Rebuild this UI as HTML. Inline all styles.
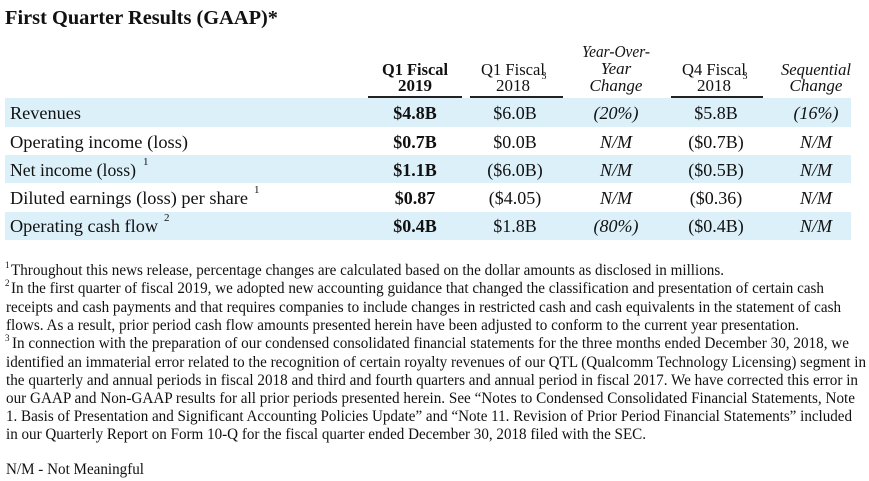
<!DOCTYPE html>
<html><head><meta charset="utf-8"><style>
html,body{margin:0;padding:0;background:#fff;width:869px;height:481px;overflow:hidden}
svg{display:block;font-family:"Liberation Serif",serif;fill:#111}
</style></head><body>
<svg width="869" height="481" viewBox="0 0 869 481">
<text x="5" y="24" font-size="20" font-weight="bold" textLength="273" lengthAdjust="spacingAndGlyphs">First Quarter Results (GAAP)*</text>

<g>
<rect x="5" y="98" width="846" height="29" fill="#dcf0fa"/>
<rect x="5" y="155" width="846" height="28" fill="#dcf0fa"/>
<rect x="5" y="212" width="846" height="28" fill="#dcf0fa"/>
</g>
<g fill="#222">
<rect x="368" y="96" width="94" height="2"/>
<rect x="470" y="96" width="93" height="2"/>
<rect x="671" y="96" width="92" height="2"/>
</g>

<g font-size="17" text-anchor="middle">
<text x="415" y="75" font-weight="bold" textLength="66" lengthAdjust="spacingAndGlyphs">Q1 Fiscal</text>
<text x="415" y="91" font-weight="bold">2019</text>
<text x="513" y="75" textLength="64" lengthAdjust="spacingAndGlyphs">Q1 Fiscal</text>
<text x="513" y="91">2018</text>
<text x="544" y="79" font-size="10">3</text>
<text x="616" y="57" font-style="italic" textLength="68" lengthAdjust="spacingAndGlyphs">Year-Over-</text>
<text x="616" y="74" font-style="italic">Year</text>
<text x="616" y="91" font-style="italic">Change</text>
<text x="714" y="75" textLength="64" lengthAdjust="spacingAndGlyphs">Q4 Fiscal</text>
<text x="714" y="91">2018</text>
<text x="745" y="79" font-size="10">3</text>
<text x="816" y="75" font-style="italic" textLength="70" lengthAdjust="spacingAndGlyphs">Sequential</text>
<text x="816" y="91" font-style="italic">Change</text>
</g>

<g font-size="18">
<text x="10" y="119" textLength="71" lengthAdjust="spacingAndGlyphs">Revenues</text>
<text x="10" y="148" textLength="178" lengthAdjust="spacingAndGlyphs">Operating income (loss)</text>
<text x="10" y="176" textLength="126" lengthAdjust="spacingAndGlyphs">Net income (loss)</text>
<text x="143" y="165" font-size="11">1</text>
<text x="10" y="204" textLength="238" lengthAdjust="spacingAndGlyphs">Diluted earnings (loss) per share</text>
<text x="254" y="193" font-size="11">1</text>
<text x="10" y="232" textLength="148" lengthAdjust="spacingAndGlyphs">Operating cash flow</text>
<text x="164" y="221" font-size="11">2</text>
</g>

<g font-size="18" text-anchor="middle">
<g font-weight="bold">
<text x="415" y="119">$4.8B</text><text x="415" y="148">$0.7B</text><text x="415" y="176">$1.1B</text><text x="415" y="204">$0.87</text><text x="415" y="232">$0.4B</text>
</g>
<text x="515" y="119">$6.0B</text><text x="515" y="148">$0.0B</text><text x="515" y="176">($6.0B)</text><text x="515" y="204">($4.05)</text><text x="515" y="232">$1.8B</text>
<g font-style="italic">
<text x="616" y="119">(20%)</text><text x="616" y="148">N/M</text><text x="616" y="176">N/M</text><text x="616" y="204">N/M</text><text x="616" y="232">(80%)</text>
</g>
<text x="716" y="119">$5.8B</text><text x="716" y="148">($0.7B)</text><text x="716" y="176">($0.5B)</text><text x="716" y="204">($0.36)</text><text x="716" y="232">($0.4B)</text>
<g font-style="italic">
<text x="816" y="119">(16%)</text><text x="816" y="148">N/M</text><text x="816" y="176">N/M</text><text x="816" y="204">N/M</text><text x="816" y="232">N/M</text>
</g>
</g>

<g font-size="16">
<text x="5" y="268" font-size="9">1</text>
<text x="11" y="275" textLength="713" lengthAdjust="spacingAndGlyphs">Throughout this news release, percentage changes are calculated based on the dollar amounts as disclosed in millions.</text>
<text x="5" y="286" font-size="9">2</text>
<text x="11" y="293" textLength="813" lengthAdjust="spacingAndGlyphs">In the first quarter of fiscal 2019, we adopted new accounting guidance that changed the classification and presentation of certain cash</text>
<text x="6" y="312" textLength="835" lengthAdjust="spacingAndGlyphs">receipts and cash payments and that requires companies to include changes in restricted cash and cash equivalents in the statement of cash</text>
<text x="6" y="330" textLength="793" lengthAdjust="spacingAndGlyphs">flows.  As a result, prior period cash flow amounts presented herein have been adjusted to conform to the current year presentation.</text>
<text x="5" y="341" font-size="9">3</text>
<text x="12" y="348" textLength="837" lengthAdjust="spacingAndGlyphs">In connection with the preparation of our condensed consolidated financial statements for the three months ended December 30, 2018, we</text>
<text x="6" y="367" textLength="860" lengthAdjust="spacingAndGlyphs">identified an immaterial error related to the recognition of certain royalty revenues of our QTL (Qualcomm Technology Licensing) segment in</text>
<text x="6" y="385" textLength="852" lengthAdjust="spacingAndGlyphs">the quarterly and annual periods in fiscal 2018 and third and fourth quarters and annual period in fiscal 2017.  We have corrected this error in</text>
<text x="6" y="403" textLength="849" lengthAdjust="spacingAndGlyphs">our GAAP and Non-GAAP results for all prior periods presented herein.  See “Notes to Condensed Consolidated Financial Statements, Note</text>
<text x="6" y="421" textLength="846" lengthAdjust="spacingAndGlyphs">1. Basis of Presentation and Significant Accounting Policies Update” and “Note 11. Revision of Prior Period Financial Statements” included</text>
<text x="6" y="439" textLength="640" lengthAdjust="spacingAndGlyphs">in our Quarterly Report on Form 10-Q for the fiscal quarter ended December 30, 2018 filed with the SEC.</text>
<text x="6" y="474" textLength="138" lengthAdjust="spacingAndGlyphs">N/M - Not Meaningful</text>
</g>
</svg>
</body></html>
